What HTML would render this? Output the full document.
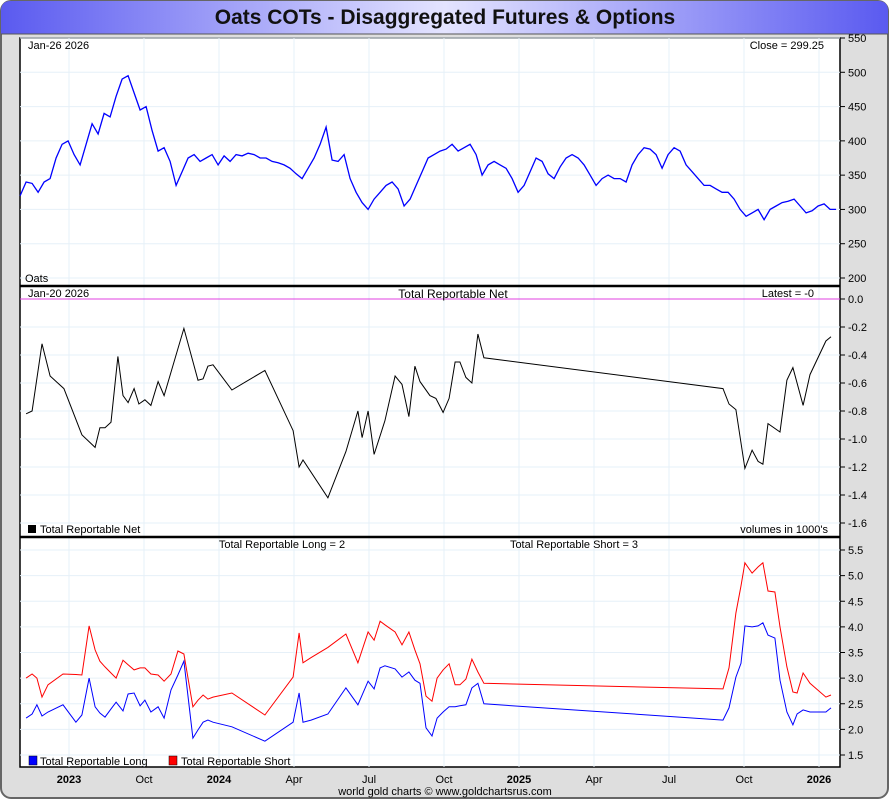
<!DOCTYPE html>
<html><head><meta charset="utf-8"><style>
body{margin:0;background:#fff;}
svg{display:block;font-family:"Liberation Sans",sans-serif;}
</style></head><body>
<svg id="c" width="890" height="800" xmlns="http://www.w3.org/2000/svg">
<defs><linearGradient id="tg" x1="0" x2="1"><stop offset="0" stop-color="#5a5af0"/><stop offset="0.5" stop-color="#e4e4ff"/><stop offset="1" stop-color="#5a5af0"/></linearGradient></defs>
<rect x="1" y="1" width="887" height="797" rx="10" fill="#dedede" stroke="#666" stroke-width="2"/>
<path d="M1 34 V11 Q1 1 11 1 H878 Q888 1 888 11 V34 Z" fill="url(#tg)"/>
<line x1="1" y1="34" x2="888" y2="34" stroke="#555"/>
<text x="445" y="24" text-anchor="middle" font-size="21" font-weight="bold" fill="#111">Oats COTs - Disaggregated Futures &amp; Options</text>
<rect x="20" y="38" width="820" height="729" fill="#fff" stroke="#000" stroke-width="1.5"/>
<g id="grid"></g>
<g id="marks"></g>
<g id="axes"></g>
<line x1="20" y1="286" x2="840" y2="286" stroke="#000" stroke-width="2.5"/>
<line x1="20" y1="537" x2="840" y2="537" stroke="#000" stroke-width="2.5"/>
<text x="28" y="49" font-size="11">Jan-26  2026</text>
<text x="824" y="49" font-size="11" text-anchor="end">Close = 299.25</text>
<text x="25" y="282" font-size="11">Oats</text>
<text x="28" y="297" font-size="11">Jan-20  2026</text>
<text x="453" y="298" font-size="12" text-anchor="middle">Total Reportable Net</text>
<text x="814" y="297" font-size="11" text-anchor="end">Latest = -0</text>
<rect x="28" y="525" width="8" height="8" fill="#000"/>
<text x="40" y="533" font-size="11">Total Reportable Net</text>
<text x="828" y="533" font-size="11" text-anchor="end">volumes in 1000's</text>
<text x="282" y="548" font-size="11" text-anchor="middle">Total Reportable Long = 2</text>
<text x="574" y="548" font-size="11" text-anchor="middle">Total Reportable Short = 3</text>
<rect x="29" y="756" width="8" height="9" fill="#00f" stroke="#000" stroke-width="0.5"/>
<text x="40" y="765" font-size="11">Total Reportable Long</text>
<rect x="169" y="756" width="8" height="9" fill="#f00" stroke="#000" stroke-width="0.5"/>
<text x="181" y="765" font-size="11">Total Reportable Short</text>
<text x="445" y="795" font-size="11" text-anchor="middle">world gold charts © www.goldchartsrus.com</text>
</svg>
<script>
const tickLabels=["2023","Oct","2024","Apr","Jul","Oct","2025","Apr","Jul","Oct","2026"];
const tickTimes=[2023.0,2023.25,2023.5,2023.75,2024.0,2024.25,2024.5,2024.75,2025.0,2025.25,2025.5];
const priceStart=2022.837, priceStep=0.02;
const priceValues=[320,340,338,325,340,345,375,395,400,380,365,395,425,410,440,435,465,490,495,470,445,450,415,385,390,370,335,355,375,380,370,375,380,365,378,370,380,378,382,380,375,375,370,368,365,360,352,345,360,375,395,420,372,370,380,345,325,310,300,315,325,335,340,330,305,315,335,355,375,380,385,388,395,385,390,395,380,350,365,370,365,360,345,325,335,355,375,370,352,345,362,375,380,375,365,350,335,345,350,345,345,340,365,380,390,388,380,360,380,390,385,365,355,345,335,335,330,325,325,315,300,290,295,300,285,300,305,310,312,315,305,295,298,305,308,300,300];
const priceTicks=[200,250,300,350,400,450,500,550];
const netDates=[2022.857,2022.877,2022.910,2022.937,2022.983,2023.043,2023.087,2023.103,2023.120,2023.140,2023.163,2023.180,2023.197,2023.217,2023.233,2023.253,2023.273,2023.297,2023.317,2023.383,2023.430,2023.447,2023.463,2023.480,2023.543,2023.653,2023.747,2023.767,2023.780,2023.863,2023.923,2023.963,2023.977,2023.997,2024.017,2024.053,2024.087,2024.110,2024.133,2024.153,2024.170,2024.203,2024.223,2024.247,2024.267,2024.287,2024.303,2024.323,2024.343,2024.363,2024.383,2025.180,2025.200,2025.223,2025.253,2025.277,2025.297,2025.313,2025.330,2025.370,2025.393,2025.413,2025.447,2025.470,2025.523,2025.540];
const netValues=[-0.82,-0.80,-0.32,-0.55,-0.64,-0.97,-1.06,-0.92,-0.92,-0.88,-0.41,-0.69,-0.74,-0.64,-0.75,-0.72,-0.76,-0.59,-0.69,-0.21,-0.58,-0.57,-0.48,-0.47,-0.65,-0.51,-0.94,-1.20,-1.15,-1.42,-1.09,-0.80,-0.99,-0.80,-1.11,-0.87,-0.55,-0.61,-0.84,-0.48,-0.59,-0.69,-0.71,-0.81,-0.71,-0.45,-0.45,-0.56,-0.60,-0.25,-0.42,-0.64,-0.75,-0.79,-1.21,-1.08,-1.16,-1.18,-0.89,-0.95,-0.58,-0.49,-0.76,-0.54,-0.30,-0.27];
const netTicks=[0,-0.2,-0.4,-0.6,-0.8,-1.0,-1.2,-1.4,-1.6];
const cotDates=[2022.857,2022.877,2022.893,2022.910,2022.930,2022.980,2023.023,2023.043,2023.067,2023.087,2023.103,2023.120,2023.140,2023.157,2023.180,2023.197,2023.217,2023.237,2023.253,2023.273,2023.297,2023.317,2023.340,2023.363,2023.383,2023.413,2023.430,2023.447,2023.463,2023.480,2023.543,2023.653,2023.747,2023.767,2023.780,2023.807,2023.863,2023.923,2023.963,2023.997,2024.017,2024.037,2024.053,2024.087,2024.110,2024.133,2024.153,2024.170,2024.190,2024.210,2024.227,2024.247,2024.267,2024.287,2024.303,2024.323,2024.343,2024.363,2024.383,2025.180,2025.200,2025.223,2025.240,2025.253,2025.277,2025.297,2025.313,2025.330,2025.353,2025.370,2025.393,2025.413,2025.427,2025.447,2025.470,2025.523,2025.540];
const longValues=[2.22,2.30,2.48,2.26,2.34,2.48,2.14,2.28,3.00,2.44,2.32,2.24,2.40,2.53,2.36,2.69,2.71,2.46,2.57,2.34,2.44,2.22,2.77,3.06,3.33,1.83,1.99,2.14,2.18,2.14,2.05,1.77,2.14,2.71,2.14,2.18,2.30,2.81,2.48,2.94,2.79,3.20,3.24,3.18,3.02,3.12,2.96,2.90,2.03,1.87,2.22,2.34,2.44,2.44,2.46,2.48,2.81,2.90,2.50,2.18,2.42,3.02,3.29,4.02,4.00,4.02,4.08,3.84,3.78,2.96,2.34,2.09,2.30,2.38,2.34,2.34,2.42];
const shortValues=[3.00,3.08,3.00,2.63,2.87,3.08,3.07,3.06,4.02,3.55,3.33,3.22,3.10,3.00,3.35,3.26,3.16,3.20,3.20,3.08,3.06,2.94,3.08,3.53,3.47,2.44,2.57,2.67,2.59,2.63,2.71,2.28,3.02,3.88,3.30,3.40,3.60,3.86,3.30,3.90,3.74,4.11,4.04,3.90,3.65,3.90,3.55,3.28,2.65,2.55,3.00,3.16,3.28,2.87,2.87,2.98,3.37,3.12,2.90,2.79,3.20,4.27,4.80,5.25,5.05,5.17,5.25,4.70,4.68,4.00,3.22,2.73,2.71,3.10,2.90,2.63,2.67];
const cotTicks=[1.5,2.0,2.5,3.0,3.5,4.0,4.5,5.0,5.5];

const NS="http://www.w3.org/2000/svg";
const X=t=>69+(t-2023)*300;
const yPrice=v=>38+(550-v)*240/350;
const yNet=v=>299-v*140;
const yCot=v=>550+(5.5-v)*51.25;
function mk(tag,attrs,parent){const e=document.createElementNS(NS,tag);for(const k in attrs)e.setAttribute(k,attrs[k]);document.getElementById(parent).appendChild(e);return e;}
tickTimes.forEach((t,i)=>{
  const x=X(t);
  const g=mk('line',{x1:x,y1:38,x2:x,y2:767,stroke:'#e6f0f8','stroke-width':1},'grid');
  
  
  const tx=mk('text',{x:x,y:783,'font-size':11,'text-anchor':'middle','font-weight':(tickLabels[i].length===4?'bold':'normal')},'axes');
  tx.textContent=tickLabels[i];
  
  
});
function yAxis(ticks,fy,fmt,name){
  ticks.forEach(v=>{
    const y=fy(v);
    const g=mk('line',{x1:20,y1:y,x2:840,y2:y,stroke:'#e6f0f8','stroke-width':1},'grid');
    
    
    mk('line',{x1:840,y1:y,x2:845,y2:y,stroke:'#000'},'axes');
    const tx=mk('text',{x:848,y:y+4,'font-size':11},'axes');
    tx.textContent=fmt(v);
    
    
  });
}
yAxis(priceTicks,yPrice,v=>String(v),'price');
yAxis(netTicks,yNet,v=>v.toFixed(1),'net');
yAxis(cotTicks,yCot,v=>v.toFixed(1),'cot');
function line(dates,vals,fy,color,name,w){
  const pts=dates.map((t,i)=>X(t).toFixed(1)+','+fy(vals[i]).toFixed(1)).join(' ');
  const p=mk('polyline',{points:pts,fill:'none',stroke:color,'stroke-width':w},'marks');
  
  
}
const priceDates=priceValues.map((v,i)=>priceStart+i*priceStep);
line(priceDates,priceValues,yPrice,'#0000ff','price-line',1.3);
const z=mk('line',{x1:20,y1:yNet(0),x2:840,y2:yNet(0),stroke:'#e040e0','stroke-width':1},'marks');


line(netDates,netValues,yNet,'#000','net-line',1);
line(cotDates,shortValues,yCot,'#ff0000','short-line',1);
line(cotDates,longValues,yCot,'#0000ff','long-line',1);
</script>
</body></html>
